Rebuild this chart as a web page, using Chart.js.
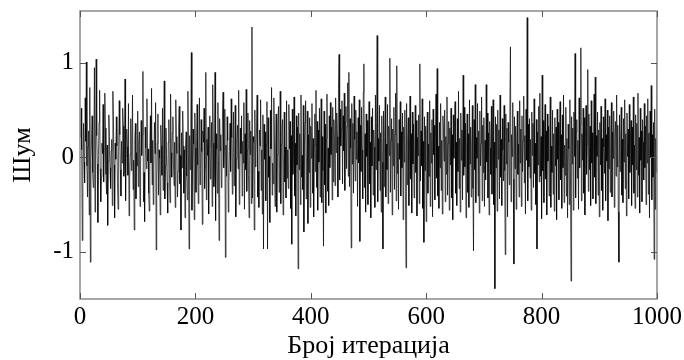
<!DOCTYPE html>
<html>
<head>
<meta charset="utf-8">
<script src="https://cdn.jsdelivr.net/npm/chart.js@4"></script>
<style>
  html, body { margin: 0; padding: 0; background: #fff; }
  #wrap { width: 684px; height: 360px; }
</style>
</head>
<body>
<div id="wrap"><canvas id="noiseChart" width="684" height="360"></canvas></div>
<script>
// шум по итерацијама (очитано са слике, приближно)
const noise = [
  0.21,0.52,0.08,-0.88,-0.14,0.36,-0.05,-0.27,0.63,0.17,1.01,-0.09,-0.42,0.12,0.28,-0.61,0.74,-1.11,-0.03,0.19,
  0.44,-0.16,-0.32,0.06,0.95,-0.58,0.11,1.04,0.23,-0.07,-0.69,0.02,0.37,0.71,-0.12,-0.47,-0.21,0.15,0.04,0.56,
  -0.26,0.09,0.68,0.31,-0.18,-0.39,0.13,-0.72,-0.04,0.45,0.22,-0.11,-0.33,0.07,0.19,-0.51,0.70,0.38,-0.08,-0.64,
  0.15,-0.02,0.43,0.12,-0.28,-0.55,0.06,0.60,0.24,-0.13,-0.41,0.17,-0.06,0.52,0.33,-0.20,-0.07,0.83,-0.46,0.01,
  0.30,0.11,-0.19,0.57,-0.62,-0.25,0.03,0.41,-0.14,0.08,0.66,-0.34,-0.03,-0.77,0.18,0.36,-0.44,0.05,-0.09,0.49,
  -0.31,0.14,0.27,-0.52,-0.08,0.39,0.02,0.24,0.91,-0.47,-0.16,-0.68,0.32,0.10,-0.12,0.62,-0.04,0.09,-0.38,-0.57,
  0.11,0.44,-0.06,0.73,-0.29,0.18,-0.50,-0.13,0.37,0.04,0.58,-0.98,-0.23,0.15,0.46,-0.40,0.08,-0.01,-0.61,0.34,
  0.12,-0.19,0.52,-0.35,0.07,0.81,-0.44,-0.09,0.31,0.03,-0.27,-0.59,0.16,0.40,-0.17,-0.48,0.67,0.05,-0.21,0.26,
  0.43,-0.07,-0.30,0.16,-0.53,0.61,0.22,0.04,-0.42,-0.15,0.33,0.54,-0.28,0.02,-0.77,0.26,-0.11,0.49,0.12,-0.38,
  0.08,-0.64,0.12,0.27,-0.20,-0.45,0.70,0.04,-0.97,0.23,-0.13,0.35,1.11,-0.56,-0.08,0.30,0.14,-0.66,0.47,0.10,
  -0.37,0.21,0.56,-0.08,-0.49,0.01,0.63,-0.29,-0.12,0.40,0.06,-0.71,0.28,0.16,0.52,-0.33,-0.10,0.90,-0.45,0.19,
  0.02,0.32,-0.60,0.11,0.44,-0.23,-0.05,0.37,-0.52,0.77,0.15,-0.31,-0.14,0.90,-0.67,0.25,0.09,-0.38,0.58,-0.03,
  -0.88,0.41,0.07,0.24,-0.32,-0.16,0.47,0.69,-0.11,0.09,0.51,-1.06,0.13,-0.20,0.43,0.18,-0.58,-0.26,0.06,0.36,
  -0.15,0.62,0.21,-0.39,0.05,0.48,-0.30,-0.07,0.55,-0.63,-0.02,0.20,0.34,-0.12,0.71,-0.50,-0.22,0.31,0.04,0.44,
  -0.41,0.17,-0.06,0.58,-0.55,0.25,-0.13,0.72,-0.36,0.08,0.47,-0.19,-0.64,0.39,0.03,0.28,-0.49,1.38,-0.43,0.22,
  0.16,-0.77,0.50,-0.10,0.04,0.33,0.66,-0.42,-0.15,-0.53,0.29,0.12,0.61,-0.35,0.08,-0.60,0.45,-0.97,0.35,-0.02,
  0.27,-0.46,0.14,0.59,-0.97,0.42,-0.21,0.01,-0.69,0.50,0.09,0.74,-0.40,-0.06,-0.28,0.63,0.19,-0.52,0.07,0.46,
  -0.58,0.03,0.34,0.54,-0.37,-0.12,0.70,-0.49,0.14,0.26,0.40,-0.61,-0.05,0.48,-0.26,0.11,-0.43,0.60,-0.22,0.08,
  -0.33,0.56,0.09,0.38,-0.54,0.23,-0.92,0.51,-0.18,0.06,0.64,-0.41,0.15,-0.62,0.44,-0.08,0.32,-1.18,0.47,-0.13,
  0.25,-0.50,0.66,-0.21,0.02,-0.34,0.55,-0.79,0.12,0.37,0.60,-0.44,-0.07,0.49,-0.70,0.24,-0.16,0.42,-0.53,0.33,
  -0.01,0.57,-0.38,0.20,-0.63,0.13,0.46,-0.15,0.71,-0.32,0.38,-0.56,0.29,-0.05,0.52,-0.42,0.17,0.62,-0.48,0.22,
  -0.14,-0.94,0.49,-0.29,0.35,-0.59,0.20,0.67,-0.36,0.10,-0.51,0.44,-0.11,0.58,0.03,0.32,-0.45,0.53,-0.26,0.40,
  0.18,-0.30,0.63,0.05,0.47,0.22,-0.42,0.73,1.09,-0.24,0.51,0.12,0.30,0.60,-0.28,0.44,0.07,0.68,-0.35,0.37,
  0.54,-0.12,0.33,0.79,-0.20,0.90,-0.31,0.41,0.10,-0.96,0.57,-0.07,0.36,-0.38,0.65,0.19,-0.25,0.50,-0.02,0.27,
  -0.52,0.42,-0.06,0.61,-0.89,0.34,-0.15,0.53,0.08,-0.44,0.69,0.99,-0.32,0.25,-0.58,0.46,0.01,0.39,-0.50,0.21,
  0.59,-0.28,0.16,-0.64,0.43,-0.09,0.52,-0.40,0.29,0.11,-0.53,0.66,-0.13,0.37,1.29,-0.47,0.20,-0.04,0.55,-0.35,
  0.26,-0.58,0.44,-0.05,-0.97,0.49,-0.31,0.21,0.64,-0.42,0.14,-0.13,0.56,-0.49,0.33,0.02,1.05,-0.37,0.18,0.41,
  -0.61,0.30,-0.09,0.53,-0.34,0.24,0.68,-0.46,0.97,-0.17,0.15,-0.55,0.40,-0.02,0.59,-0.41,0.27,-0.11,0.47,-0.66,
  0.32,-0.05,0.50,-0.36,-1.17,0.57,-0.29,0.19,0.42,-0.51,0.10,0.65,-0.23,0.25,-0.59,0.48,-0.07,0.35,-0.43,0.13,
  0.55,-0.16,0.39,-0.62,0.21,0.02,0.45,-0.49,0.99,-0.25,0.28,-0.09,0.62,-0.54,0.17,-0.90,0.43,-0.14,0.33,-0.68,
  0.23,0.48,-0.38,0.14,-0.20,0.60,-0.52,0.26,-0.06,0.40,-0.63,0.51,0.03,0.34,-0.45,0.20,0.67,-0.22,0.94,-0.41,
  0.12,-0.54,0.37,-0.11,0.57,-0.35,0.18,-0.60,0.44,0.27,-0.04,0.50,-0.47,0.22,-0.18,0.64,-0.40,0.15,0.38,-0.56,
  0.31,-0.08,0.52,-0.43,0.24,-0.66,0.45,-0.01,0.33,0.59,-0.38,0.16,-0.51,0.41,-0.15,0.70,-0.33,0.20,-0.58,0.47,
  -0.03,0.29,-0.45,0.87,-0.19,0.53,-0.10,0.36,-0.64,0.17,0.46,-0.37,0.25,-0.53,0.61,-0.07,0.32,-0.42,0.11,0.55,
  -0.33,-0.99,0.40,-0.13,0.77,-0.48,0.21,-0.01,0.57,-0.41,0.28,-0.59,0.49,-0.09,0.15,0.64,-0.46,0.34,-0.16,0.42,
  -0.52,0.18,-0.24,0.77,-0.05,0.47,-0.43,0.26,-0.61,0.38,0.10,-0.18,0.54,-0.39,0.22,0.61,-0.50,0.16,-1.39,0.43,
  -0.11,0.35,-0.57,0.50,-0.02,0.29,-0.44,0.66,-0.21,0.19,-0.51,0.41,0.08,-0.25,0.55,-0.14,-1.03,0.46,-0.07,0.31,
  -0.63,0.37,0.16,-0.29,0.52,1.17,-0.47,0.24,0.01,0.58,-0.23,-1.13,0.43,-0.12,0.33,-0.55,0.20,0.49,-0.18,0.14,
  -0.42,0.60,-0.06,0.30,-0.52,0.44,-0.15,0.17,0.65,-0.27,0.23,-0.60,0.51,-0.03,1.48,-0.46,0.35,-0.10,0.41,-0.22,
  0.19,-0.56,0.48,0.02,0.36,-0.32,0.62,-0.17,0.15,-0.50,0.40,-0.97,0.27,-0.08,0.54,-0.26,0.68,-0.20,0.22,-0.65,
  0.87,-0.14,0.39,-0.48,0.18,0.56,-0.23,0.28,-0.61,0.46,-0.04,0.33,-0.41,0.21,0.64,-0.53,0.12,-0.16,0.50,-0.39,
  0.25,-0.57,0.42,-0.09,0.32,-0.66,0.51,-0.02,0.37,-0.45,0.16,0.59,-0.24,0.24,-0.54,0.45,-0.11,0.66,-0.48,0.13,
  -0.19,0.53,-0.41,0.20,-0.64,0.35,0.09,-0.50,0.61,-0.15,-1.31,0.43,-0.07,0.31,-0.56,0.48,0.01,1.10,-0.43,0.27,
  0.40,-0.22,0.18,-0.55,0.63,-0.11,0.34,1.16,-0.46,0.25,-0.03,0.52,-0.38,0.42,-0.61,0.21,0.55,-0.18,0.14,0.93,
  -0.36,0.46,-0.13,0.33,-0.51,0.60,-0.06,0.26,-0.44,0.15,0.67,-0.21,0.85,-0.49,0.23,0.01,0.48,-0.40,0.29,-0.63,
  0.37,-0.08,0.54,-0.35,0.20,-0.56,0.43,0.11,-0.17,0.62,-0.46,0.24,-0.04,0.50,-0.67,0.32,-0.12,0.44,-0.37,0.17,
  0.58,-0.42,0.27,-0.01,0.49,-0.53,0.22,0.38,-0.20,0.66,-0.10,0.34,-0.58,-1.11,0.45,-0.15,0.15,0.53,-0.40,0.19,
  -0.48,0.41,-0.05,0.61,-0.33,0.25,-0.62,0.47,0.01,0.30,-0.44,0.56,-0.16,0.18,0.39,-0.51,0.32,-0.08,0.64,-0.38,
  0.13,-0.54,0.45,-0.13,0.36,-0.42,0.68,-0.19,0.21,-0.59,0.52,-0.03,0.28,-0.47,0.40,0.16,-0.24,0.57,-0.11,0.33,
  -0.50,0.44,-0.06,0.62,-0.39,0.26,-0.64,0.49,0.00,0.76,-0.45,0.24,-0.21,0.37,-1.08,0.51,-0.55,0.20,-0.16,0.99
];

const xTicks = [0, 200, 400, 600, 800, 1000];
const yTicks = [-1, 0, 1];
const xLabel = 'Број итерација';
const yLabel = 'Шум';

// тачке: редни број итерације -> вредност шума
const points = noise.map((v, i) => ({ x: i + 1, y: v }));

const fontFam = '"Liberation Serif", "Times New Roman", serif';

// оквир и унутрашње цртице као у matlab-у
const boxTicks = {
  id: 'boxTicks',
  afterDraw(chart) {
    const { ctx, chartArea: a, scales } = chart;
    ctx.save();
    ctx.strokeStyle = '#8a8a8a';
    ctx.lineWidth = 1.5;
    ctx.strokeRect(a.left, a.top, a.right - a.left, a.bottom - a.top);
    ctx.lineWidth = 1;
    ctx.strokeStyle = '#555';
    const len = 6;
    ctx.beginPath();
    xTicks.forEach(v => {
      const px = Math.round(scales.x.getPixelForValue(v)) + 0.5;
      ctx.moveTo(px, a.bottom); ctx.lineTo(px, a.bottom - len);
      ctx.moveTo(px, a.top); ctx.lineTo(px, a.top + len);
    });
    yTicks.forEach(v => {
      const py = Math.round(scales.y.getPixelForValue(v)) + 0.5;
      ctx.moveTo(a.left, py); ctx.lineTo(a.left + len, py);
      ctx.moveTo(a.right, py); ctx.lineTo(a.right - len, py);
    });
    ctx.stroke();
    ctx.restore();
  }
};

const noiseChart = new Chart('noiseChart', {
  type: 'line',
  data: {
    datasets: [{
      label: yLabel,
      data: points,
      borderColor: '#000',
      borderWidth: 0.7,
      pointRadius: 0,
      tension: 0,
      fill: false
    }]
  },
  options: {
    responsive: false,
    animation: false,
    events: [],
    layout: { padding: { top: 11, right: 27, left: 0, bottom: 0 } },
    plugins: {
      legend: { display: false },
      tooltip: { enabled: false }
    },
    scales: {
      x: {
        type: 'linear',
        min: 0,
        max: 1000,
        afterBuildTicks: s => { s.ticks = xTicks.map(v => ({ value: v })); },
        afterFit: s => { s.height = 61; s.paddingLeft = 0; s.paddingRight = 0; },
        grid: { display: false, drawTicks: false },
        border: { display: false },
        ticks: {
          padding: 3,
          maxRotation: 0,
          color: '#000',
          font: { family: fontFam, size: 25 },
          callback: v => String(v)
        },
        title: {
          display: true,
          text: xLabel,
          color: '#000',
          padding: { top: 0, bottom: 0 },
          font: { family: fontFam, size: 26, lineHeight: 1.05 }
        }
      },
      y: {
        type: 'linear',
        min: -1.5,
        max: 1.55,
        afterBuildTicks: s => { s.ticks = yTicks.map(v => ({ value: v })); },
        afterFit: s => { s.width = 80; s.paddingTop = 0; s.paddingBottom = 0; },
        grid: { display: false, drawTicks: false },
        border: { display: false },
        ticks: {
          padding: 6,
          color: '#000',
          font: { family: fontFam, size: 25 },
          callback: v => String(v)
        },
        title: {
          display: true,
          text: yLabel,
          color: '#000',
          padding: { top: 8, bottom: 0 },
          font: { family: fontFam, size: 26 }
        }
      }
    }
  },
  plugins: [boxTicks]
});
</script>
</body>
</html>
